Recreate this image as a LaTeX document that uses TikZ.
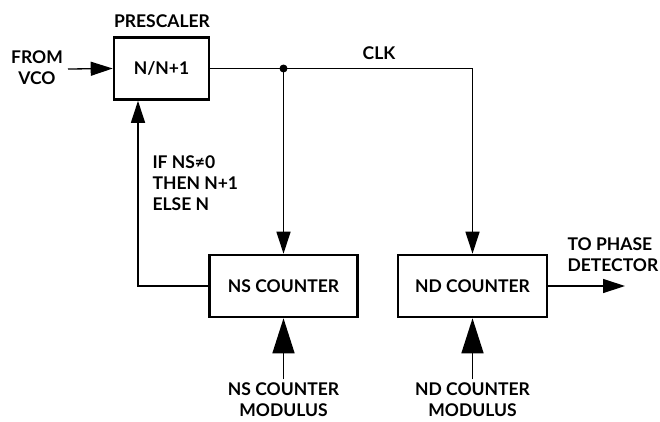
\documentclass[tikz,border=0pt]{standalone}
\usepackage{fontspec}
\setmainfont{Lato}
\usetikzlibrary{arrows.meta}
\tikzset{
    block/.style={draw, line width=2.6pt, minimum height=62pt},
    pfeil/.style={-{Triangle[length=22pt,width=14pt]}, line width=1.3pt},
    grosspfeil/.style={-{Triangle[length=35pt,width=22pt]}, line width=1.5pt}
}
\begin{document}
\begin{tikzpicture}[x=1pt, y=-1pt, font=\fontsize{17.5}{21}\selectfont\bfseries]
        \useasboundingbox (0,0) rectangle (660,421);

        % Bloecke
        \node[block, minimum width=95pt] (pre) at (161.5,68.5) {N/N+1};
        \node[block, minimum width=148pt] (ns) at (283.5,286) {NS COUNTER};
        \node[block, minimum width=149pt] (nd) at (472.5,286) {ND COUNTER};

        % Beschriftungen
        \node (presc) at (162,21) {PRESCALER};
        \node[align=center] (vco) at (37,68) {FROM\\VCO};
        \node (clk) at (379,53) {CLK};
        \node[align=left, anchor=north west] (cond) at (149,152) {IF NS≠0\\THEN N+1\\ELSE N};
        \node[align=left, anchor=south west] (pd) at (564,275) {TO PHASE\\DETECTOR};

        % Verbindungen
        \coordinate (ein) at (68,69);
        \coordinate (aus) at (625,286);
        \coordinate (rueck) at (138,286);
        \coordinate (abzw) at (ns.north |- pre.east);
        \draw[pfeil] (ein) -- (pre.west);
        \draw[pfeil] (pre.east) -- (nd.north |- pre.east) -- (nd.north);
        \fill (abzw) circle (4pt); % Abzweig
        \draw[pfeil] (abzw) -- (ns.north);
        \draw[pfeil] (ns.west) -- (rueck) -- (rueck |- pre.south);
        \draw[pfeil] (nd.east) -- (aus);

        % Modul-Eingaenge
        \foreach \z/\nm in {ns/NS, nd/ND} {
            \node[align=center, anchor=north] (\z-mod) at ([yshift=-61pt]\z.south) {\nm{} COUNTER\\MODULUS};
            \draw[grosspfeil] (\z-mod) -- (\z.south);
        }
\end{tikzpicture}
\end{document}
